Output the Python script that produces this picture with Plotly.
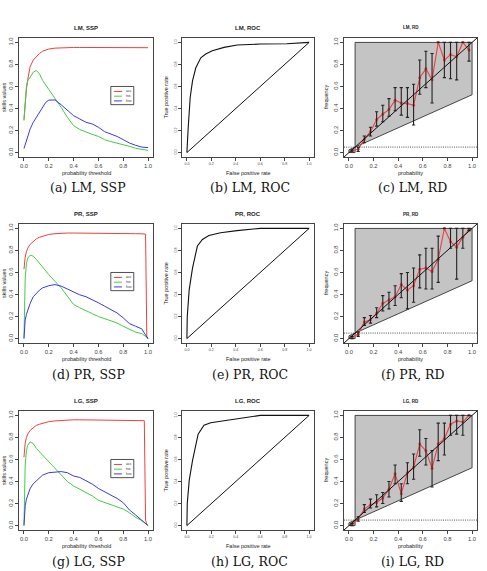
import plotly.graph_objects as go

W, H = 487, 571

# ---------------- data ----------------
models = ["LM", "PR", "LG"]
letters = [["a", "b", "c"], ["d", "e", "f"], ["g", "h", "i"]]
tick_vals = [0.0, 0.2, 0.4, 0.6, 0.8, 1.0]
tick_text = ["0.0", "0.2", "0.4", "0.6", "0.8", "1.0"]
legend_labels = ["acc", "tss", "hss"]

thr_LM = [0, 0.01, 0.02, 0.03, 0.05, 0.075, 0.1, 0.125, 0.15, 0.175, 0.2, 0.25, 0.3, 0.35,
          0.4, 0.45, 0.5, 0.55, 0.6, 0.65, 0.7, 0.75, 0.8, 0.85, 0.9, 0.95, 1.0]
acc_LM = [0.3, 0.45, 0.58, 0.66, 0.78, 0.84, 0.87, 0.9, 0.92, 0.932, 0.94, 0.948, 0.952, 0.953,
          0.954, 0.954, 0.954, 0.954, 0.954, 0.953, 0.953, 0.953, 0.953, 0.953, 0.952, 0.952, 0.952]
tss_LM = [0.29, 0.45, 0.6, 0.65, 0.69, 0.73, 0.745, 0.715, 0.655, 0.615, 0.575, 0.485, 0.41, 0.32,
          0.245, 0.21, 0.185, 0.165, 0.147, 0.117, 0.1, 0.087, 0.072, 0.057, 0.039, 0.03, 0.02]
hss_LM = [0.036, 0.07, 0.11, 0.15, 0.215, 0.275, 0.32, 0.365, 0.41, 0.455, 0.476, 0.478, 0.434, 0.38,
          0.335, 0.305, 0.275, 0.26, 0.23, 0.19, 0.17, 0.147, 0.117, 0.087, 0.066, 0.05, 0.045]

thr_PR = [0, 0.005, 0.01, 0.02, 0.03, 0.05, 0.075, 0.1, 0.125, 0.15, 0.2, 0.25, 0.3, 0.35, 0.4,
          0.45, 0.5, 0.55, 0.6, 0.65, 0.7, 0.75, 0.8, 0.85, 0.9, 0.95, 0.97, 0.98, 0.99, 1.0]
acc_PR = [0.63, 0.7, 0.74, 0.79, 0.82, 0.855, 0.885, 0.905, 0.92, 0.93, 0.945, 0.952, 0.957, 0.958, 0.958,
          0.958, 0.958, 0.957, 0.957, 0.956, 0.955, 0.955, 0.954, 0.953, 0.952, 0.951, 0.95, 0.948, 0.02, 0.0]
tss_PR = [0.0, 0.3, 0.55, 0.68, 0.73, 0.757, 0.748, 0.718, 0.68, 0.65, 0.58, 0.52, 0.46, 0.385, 0.31,
          0.28, 0.25, 0.227, 0.2, 0.18, 0.164, 0.142, 0.112, 0.082, 0.058, 0.045, 0.03, 0.02, 0.005, 0.0]
hss_PR = [0.0, 0.1, 0.17, 0.22, 0.26, 0.32, 0.38, 0.415, 0.44, 0.46, 0.48, 0.49, 0.476, 0.45, 0.42,
          0.397, 0.38, 0.355, 0.325, 0.294, 0.264, 0.233, 0.188, 0.136, 0.112, 0.088, 0.05, 0.03, 0.01, 0.0]

thr_LG = thr_PR
acc_LG = [0.62, 0.7, 0.75, 0.8, 0.83, 0.864, 0.89, 0.91, 0.92, 0.93, 0.943, 0.95, 0.955, 0.957, 0.96,
          0.96, 0.959, 0.958, 0.958, 0.957, 0.956, 0.955, 0.955, 0.954, 0.953, 0.952, 0.952, 0.05, 0.01, 0.0]
tss_LG = [0.0, 0.3, 0.55, 0.68, 0.73, 0.76, 0.744, 0.7, 0.67, 0.64, 0.58, 0.527, 0.458, 0.4, 0.36,
          0.33, 0.3, 0.27, 0.23, 0.21, 0.193, 0.172, 0.15, 0.117, 0.075, 0.045, 0.03, 0.02, 0.01, 0.0]
hss_LG = [0.0, 0.1, 0.18, 0.24, 0.28, 0.337, 0.38, 0.407, 0.437, 0.458, 0.48, 0.488, 0.49, 0.48, 0.45,
          0.437, 0.407, 0.377, 0.337, 0.307, 0.277, 0.247, 0.208, 0.142, 0.096, 0.05, 0.03, 0.02, 0.01, 0.0]

fpr_LM = [0, 0.003, 0.011, 0.027, 0.046, 0.073, 0.114, 0.154, 0.208, 0.304, 0.412, 0.6, 0.818, 1.0]
tpr_LM = [0, 0.12, 0.23, 0.5, 0.65, 0.77, 0.86, 0.895, 0.925, 0.955, 0.976, 0.985, 0.988, 1.0]
fpr_PR = [0, 0.003, 0.019, 0.046, 0.086, 0.127, 0.18, 0.276, 0.41, 0.6, 1.0]
tpr_PR = [0, 0.2, 0.445, 0.64, 0.84, 0.9, 0.936, 0.96, 0.98, 1.0, 1.0]
fpr_LG = [0, 0.003, 0.019, 0.046, 0.092, 0.14, 0.195, 0.3, 0.41, 0.6, 1.0]
tpr_LG = [0, 0.2, 0.41, 0.59, 0.83, 0.91, 0.934, 0.95, 0.97, 1.0, 1.0]

base_rate = 0.05
rd_bins = [0.025, 0.075, 0.125, 0.175, 0.225, 0.275, 0.325, 0.375, 0.425, 0.475,
           0.525, 0.575, 0.625, 0.675, 0.725, 0.775, 0.825, 0.875, 0.925, 0.975]
obs_LM = [0.015, 0.03, 0.12, 0.19, 0.30, 0.35, 0.39, 0.475, 0.45, 0.445,
          0.43, 0.68, 0.76, 0.66, 1.0, 0.84, 0.89, 0.87, 1.0, 0.93]
lo_LM = [0.005, 0.01, 0.09, 0.15, 0.24, 0.28, 0.33, 0.38, 0.34, 0.32,
         0.25, 0.53, 0.59, 0.45, 1.0, 0.68, 0.67, 0.66, 1.0, 0.83]
hi_LM = [0.025, 0.05, 0.15, 0.23, 0.37, 0.43, 0.49, 0.59, 0.59, 0.59,
         0.62, 0.84, 0.92, 0.90, 1.0, 1.0, 1.0, 1.0, 1.0, 1.0]
obs_PR = [0.01, 0.04, 0.15, 0.17, 0.23, 0.32, 0.35, 0.38, 0.49, 0.44,
          0.48, 0.63, 0.64, 0.61, 0.72, 1.0, 0.88, 0.83, 0.92, 0.99]
lo_PR = [0.0, 0.02, 0.12, 0.14, 0.19, 0.25, 0.27, 0.30, 0.37, 0.27,
         0.33, 0.46, 0.45, 0.45, 0.51, 1.0, 0.82, 0.54, 0.82, 0.98]
hi_PR = [0.02, 0.06, 0.19, 0.21, 0.28, 0.39, 0.42, 0.48, 0.59, 0.60,
         0.64, 0.76, 0.82, 0.82, 0.93, 1.0, 1.0, 1.0, 1.0, 1.0]
obs_LG = [0.01, 0.06, 0.15, 0.19, 0.21, 0.25, 0.33, 0.47, 0.29, 0.48,
          0.53, 0.74, 0.68, 0.52, 0.74, 0.79, 0.92, 0.95, 0.94, 1.0]
lo_LG = [0.0, 0.04, 0.12, 0.16, 0.17, 0.20, 0.26, 0.38, 0.22, 0.38,
         0.42, 0.63, 0.55, 0.35, 0.59, 0.64, 0.82, 0.83, 0.82, 1.0]
hi_LG = [0.02, 0.08, 0.19, 0.24, 0.28, 0.30, 0.40, 0.55, 0.38, 0.57,
         0.65, 0.87, 0.79, 0.68, 0.93, 0.93, 1.0, 1.0, 1.0, 1.0]

ssp = {"LM": (thr_LM, acc_LM, tss_LM, hss_LM),
       "PR": (thr_PR, acc_PR, tss_PR, hss_PR),
       "LG": (thr_LG, acc_LG, tss_LG, hss_LG)}
roc = {"LM": (fpr_LM, tpr_LM), "PR": (fpr_PR, tpr_PR), "LG": (fpr_LG, tpr_LG)}
rd = {"LM": (obs_LM, lo_LM, hi_LM), "PR": (obs_PR, lo_PR, hi_PR), "LG": (obs_LG, lo_LG, hi_LG)}

# ---------------- style ----------------
SANS = "Liberation Sans"
SERIF = "DejaVu Serif"
RED, GREEN, BLUE = "#ee4040", "#44cc44", "#3a3ae0"
FRAME = "#444444"
SHADE = "#c4c4c4"
AX_RANGE = [-0.04, 1.04]

col_px = [(19, 153), (182, 314), (344, 477)]
row_px = [(38, 157), (224, 343), (411, 530)]

fig = go.Figure()
annotations = []
shapes = []
layout_axes = {}


def ax_names(r, c):
    k = r * 3 + c + 1
    s = "" if k == 1 else str(k)
    return "x" + s, "y" + s, "xaxis" + s, "yaxis" + s


def base_axis(tsize):
    return dict(range=AX_RANGE, showline=True, mirror=True, linecolor=FRAME, linewidth=1,
                ticks="outside", ticklen=3, tickwidth=0.8, tickcolor=FRAME,
                showgrid=False, zeroline=False, fixedrange=True, automargin=False,
                tickvals=tick_vals, ticktext=tick_text,
                tickfont=dict(family=SANS, size=tsize, color="#444"))


def ann(text, x, y, size, bold=False, family=SANS, color="#222", angle=0):
    annotations.append(dict(text=("<b>%s</b>" % text) if bold else text, x=x / W, y=1 - y / H,
                            xref="paper", yref="paper", showarrow=False, textangle=angle,
                            font=dict(family=family, size=size, color=color),
                            xanchor="center", yanchor="middle"))


titles = ["SSP", "ROC", "RD"]
xtitles = ["probability threshold", "False positive rate", "probability"]
ytitles = ["skills values", "True positive rate", "frequency"]
tick_sizes = [5.8, 3.6, 5.8]
title_sizes = [6, 6, 4.5]
ytitle_x = [3.5, 165, 325.5]

for r, m in enumerate(models):
    for c in range(3):
        xa, ya, xk, yk = ax_names(r, c)
        x0, x1 = col_px[c]
        y0, y1 = row_px[r]
        xaxis = base_axis(tick_sizes[c])
        xaxis.update(domain=[x0 / W, x1 / W], anchor=ya)
        yaxis = base_axis(tick_sizes[c])
        yaxis.update(domain=[1 - y1 / H, 1 - y0 / H], anchor=xa, tickangle=-90)
        layout_axes[xk] = xaxis
        layout_axes[yk] = yaxis
        cx = (x0 + x1) / 2
        cy = (y0 + y1) / 2
        ann("%s, %s" % (m, titles[c]), cx, y0 - 10, title_sizes[c], bold=True)
        ann(xtitles[c], cx, y1 + 15.5, 5.5)
        ann(ytitles[c], ytitle_x[c], cy, 5.5, angle=-90)
        ann("(%s) %s, %s" % (letters[r][c], m, titles[c]), cx + 2, y1 + 31, 12.5, family=SERIF, color="#111")

        if c == 0:
            thr, acc, tss, hss = ssp[m]
            for vals, col in zip((acc, tss, hss), (RED, GREEN, BLUE)):
                fig.add_trace(go.Scatter(x=thr, y=vals, mode="lines", line=dict(color=col, width=1),
                                         xaxis=xa, yaxis=ya, showlegend=False, hoverinfo="skip"))
            # legend box (R style, placed in data coordinates)
            shapes.append(dict(type="rect", xref=xa, yref=ya, x0=0.70, x1=0.885, y0=0.435, y1=0.60,
                               line=dict(color="#222", width=0.8), fillcolor="white"))
            for i, (lab, col) in enumerate(zip(legend_labels, (RED, GREEN, BLUE))):
                yy = 0.555 - i * 0.043
                shapes.append(dict(type="line", xref=xa, yref=ya, x0=0.725, x1=0.79, y0=yy, y1=yy,
                                   line=dict(color=col, width=1)))
                annotations.append(dict(text=lab, x=0.805, y=yy, xref=xa, yref=ya, showarrow=False,
                                        xanchor="left", yanchor="middle",
                                        font=dict(family=SANS, size=3.6, color="#333")))
        elif c == 1:
            fpr, tpr = roc[m]
            fig.add_trace(go.Scatter(x=fpr, y=tpr, mode="lines", line=dict(color="#111", width=1.1),
                                     xaxis=xa, yaxis=ya, showlegend=False, hoverinfo="skip"))
            fig.add_trace(go.Scatter(x=[0, 1], y=[0, 1], mode="lines", line=dict(color="#111", width=1),
                                     xaxis=xa, yaxis=ya, showlegend=False, hoverinfo="skip"))
        else:
            b = base_rate
            a = b + (1 - b) / 2
            fig.add_trace(go.Scatter(x=[b, b, 1, 1, 0, 0, b], y=[0, 1, 1, a, b / 2, 0, 0],
                                     mode="lines", fill="toself", fillcolor=SHADE,
                                     line=dict(color="#333", width=0.9),
                                     xaxis=xa, yaxis=ya, showlegend=False, hoverinfo="skip"))
            shapes.append(dict(type="line", xref=xa + " domain", yref=ya, x0=0, x1=1, y0=b, y1=b,
                               line=dict(color="#222", width=0.8, dash="1px,1.2px")))
            shapes.append(dict(type="line", xref=xa + " domain", yref=ya + " domain", x0=0, x1=1,
                               y0=0, y1=1, line=dict(color="#111", width=1)))
            obs, lo, hi = rd[m]
            fig.add_trace(go.Scatter(x=rd_bins, y=obs, mode="lines+markers",
                                     line=dict(color=RED, width=1.1),
                                     marker=dict(color=RED, size=3),
                                     xaxis=xa, yaxis=ya, showlegend=False, hoverinfo="skip"))
            fig.add_trace(go.Scatter(x=rd_bins, y=obs, mode="markers", marker=dict(size=0.1, opacity=0),
                                     error_y=dict(type="data", symmetric=False,
                                                  array=[h - o for h, o in zip(hi, obs)],
                                                  arrayminus=[o - l for o, l in zip(obs, lo)],
                                                  color="#222", thickness=1.1, width=1.6),
                                     xaxis=xa, yaxis=ya, showlegend=False, hoverinfo="skip"))

fig.update_layout(width=W, height=H, margin=dict(l=0, r=0, t=0, b=0),
                  paper_bgcolor="white", plot_bgcolor="white", showlegend=False,
                  annotations=annotations, shapes=shapes, **layout_axes)

fig.write_html("out.html", config={"displayModeBar": False})
